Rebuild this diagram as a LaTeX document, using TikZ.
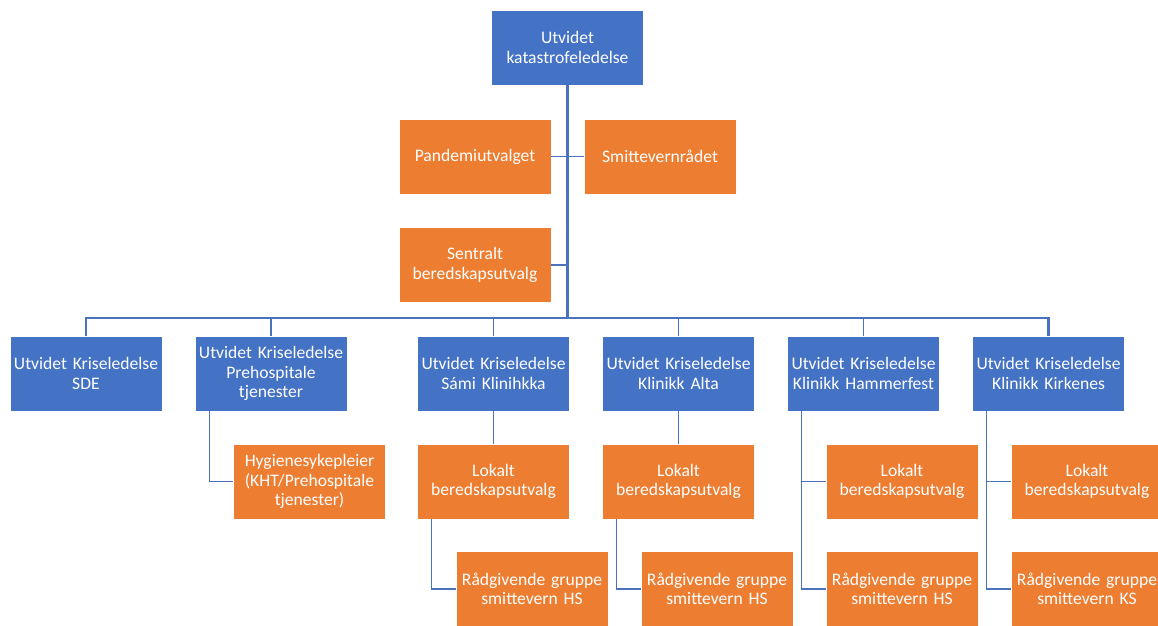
\documentclass[tikz,border=0pt]{standalone}
\usepackage{fontspec}
\setmainfont{Carlito}
\usetikzlibrary{positioning}
\definecolor{boxblue}{HTML}{4472C4}
\definecolor{boxorange}{HTML}{ED7D31}
\definecolor{linkblue}{HTML}{4A72BD}

\begin{document}
\begin{tikzpicture}[x=1pt, y=-1pt, font=\fontsize{17.6}{19.5}\selectfont]
% one unit = one pixel of the chart, y runs downwards

\tikzstyle{box}   = [draw=white, line width=0.6pt, rectangle, minimum width=152pt, minimum height=75pt, text width=150pt, align=center, text=white, inner sep=0pt] % common box
\tikzstyle{lead}  = [box, fill=boxblue] % management level
\tikzstyle{unit}  = [box, fill=boxorange] % committees and groups
\tikzstyle{link}  = [color=linkblue, line width=1.3pt] % thin connector
\tikzstyle{trunk} = [link, line width=2.2pt] % main spine

\useasboundingbox (0,0) rectangle (1158,625);

% top level with its committees
\node(top)[lead] at (567.5,47.5){Utvidet\\katastrofeledelse};
\node(pand)[unit, below of=top, node distance=109pt, xshift=-92.5pt]{Pandemiutvalget};
\node(smitt)[unit, below of=top, node distance=109pt, xshift=92.5pt]{Smittevernrådet};
\node(sentr)[unit, below of=pand, node distance=108.5pt]{Sentralt\\beredskapsutvalg};
\node(bus)[coordinate, below of=top, node distance=270.5pt]{};

% crisis management per unit
\node(k1)[lead] at (86,373.5){Utvidet Kriseledelse\\SDE};
\node(k2)[lead, right of=k1, node distance=185pt]{Utvidet Kriseledelse\\Prehospitale\\tjenester};
\node(k3)[lead, right of=k2, node distance=222.5pt]{Utvidet Kriseledelse\\Sámi Klinihkka};
\node(k4)[lead, right of=k3, node distance=185pt]{Utvidet Kriseledelse\\Klinikk Alta};
\node(k5)[lead, right of=k4, node distance=185pt]{Utvidet Kriseledelse\\Klinikk Hammerfest};
\node(k6)[lead, right of=k5, node distance=185pt]{Utvidet Kriseledelse\\Klinikk Kirkenes};

% local preparedness committees
\node(hyg)[unit, below of=k2, node distance=108pt, xshift=38.5pt]{Hygienesykepleier\\(KHT/Prehospitale\\tjenester)};
\node(lok3)[unit, below of=k3, node distance=108pt]{Lokalt\\beredskapsutvalg};
\node(lok4)[unit, below of=k4, node distance=108pt]{Lokalt\\beredskapsutvalg};
\node(lok5)[unit, below of=k5, node distance=108pt, xshift=38.5pt]{Lokalt\\beredskapsutvalg};
\node(lok6)[unit, below of=k6, node distance=108pt, xshift=38.5pt]{Lokalt\\beredskapsutvalg};

% advisory groups
\node(rad3)[unit, below of=lok3, node distance=107.5pt, xshift=38.5pt]{Rådgivende gruppe\\smittevern HS};
\node(rad4)[unit, below of=lok4, node distance=107.5pt, xshift=38.5pt]{Rådgivende gruppe\\smittevern HS};
\node(rad5)[unit, below of=lok5, node distance=107.5pt]{Rådgivende gruppe\\smittevern HS};
\node(rad6)[unit, below of=lok6, node distance=107.5pt]{Rådgivende gruppe\\smittevern KS};

% spine and bus
\draw[trunk](top.south)--(bus);
\draw[trunk](k1.north)|-(bus)-|(k6.north);
\foreach \k in {k2,k3,k4,k5} \draw[link](\k.north)--(\k.north |- bus);

% committees on the spine
\draw[link](pand.east)--(smitt.west);
\draw[link](sentr.east)--(sentr.east -| top.south);

% lower levels
\draw[link]([xshift=15pt]k2.south west)|-(hyg.west);
\draw[link](k3.south)--(lok3.north);
\draw[link](k4.south)--(lok4.north);
\draw[link]([xshift=14pt]lok3.south west)|-(rad3.west);
\draw[link]([xshift=14pt]lok4.south west)|-(rad4.west);
\draw[link]([xshift=14pt]k5.south west)|-(lok5.west);
\draw[link]([xshift=14pt]k5.south west)|-(rad5.west);
\draw[link]([xshift=14pt]k6.south west)|-(lok6.west);
\draw[link]([xshift=14pt]k6.south west)|-(rad6.west);
\end{tikzpicture}
\end{document}
